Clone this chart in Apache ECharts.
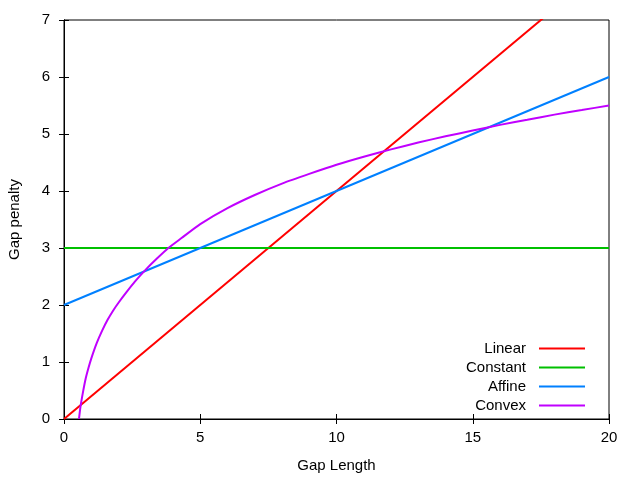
<!DOCTYPE html>
<html>
<head>
<meta charset="utf-8">
<script src="https://cdn.jsdelivr.net/npm/echarts@6/dist/echarts.min.js"></script>
<style>html,body{margin:0;padding:0;background:#fff}#c{width:640px;height:480px}</style>
</head>
<body>
<div id="c"></div>
<script>
var seriesNames = ['Linear', 'Constant', 'Affine', 'Convex'];
var linearData = [[0, 0], [20, 8]];
var constantData = [[0, 3], [20, 3]];
var affineData = [[0, 2], [20, 6]];
var convexData = [[0.55, 0], [0.6, 0.2], [0.7, 0.48], [0.8, 0.72], [0.9, 0.9], [1.0, 1.06], [1.2, 1.33], [1.4, 1.55], [1.6, 1.74], [1.8, 1.9], [2.0, 2.04], [2.3, 2.23], [2.6, 2.41], [3.0, 2.62], [3.4, 2.81], [3.83, 3.0], [4.3, 3.17], [5, 3.42], [6, 3.7], [7, 3.93], [8, 4.13], [9, 4.3], [10, 4.46], [11, 4.6], [12, 4.73], [13, 4.85], [14, 4.96], [15, 5.06], [16, 5.16], [17, 5.25], [18, 5.34], [19, 5.42], [20, 5.5]];
var colors = ['#ff0000', '#00c000', '#0080ff', '#c000ff'];
var xTicks = [0, 5, 10, 15, 20];
var yTicks = [0, 1, 2, 3, 4, 5, 6, 7];

var font = 'Liberation Sans, Arial, sans-serif';
var chart = echarts.init(document.getElementById('c'));
var axisLineStyle = {show: true, lineStyle: {color: '#000', width: 1}};
var tick = {show: true, inside: true, length: 5, lineStyle: {color: '#000'}};
var allData = [linearData, constantData, affineData, convexData];
chart.setOption({
  animation: false,
  color: colors,
  grid: {left: 64, top: 20, right: 31, bottom: 61, containLabel: false, outerBoundsMode: 'none',
         show: true, borderColor: '#000', borderWidth: 1, backgroundColor: 'transparent'},
  legend: {
    orient: 'vertical', right: 50, top: 336, align: 'right',
    itemWidth: 46, itemHeight: 2, itemGap: 4, icon: 'rect',
    textStyle: {fontFamily: font, fontSize: 15, color: '#000', padding: [0, 8, 0, 0]},
    data: seriesNames
  },
  xAxis: [{
    type: 'value', min: xTicks[0], max: xTicks[xTicks.length - 1], interval: 5,
    name: 'Gap Length', nameLocation: 'middle', nameGap: 39,
    nameTextStyle: {fontFamily: font, fontSize: 15, color: '#000'},
    axisLine: axisLineStyle, axisTick: tick, splitLine: {show: false},
    axisLabel: {fontFamily: font, fontSize: 15, color: '#000', margin: 11}
  }, {
    type: 'value', position: 'top', min: 0, max: 20, interval: 5,
    axisLine: axisLineStyle, axisTick: tick, splitLine: {show: false}, axisLabel: {show: false}
  }],
  yAxis: [{
    type: 'value', min: yTicks[0], max: yTicks[yTicks.length - 1], interval: 1,
    name: 'Gap penalty', nameLocation: 'middle', nameGap: 42,
    nameTextStyle: {fontFamily: font, fontSize: 15, color: '#000'},
    axisLine: axisLineStyle, axisTick: tick, splitLine: {show: false},
    axisLabel: {fontFamily: font, fontSize: 15, color: '#000', margin: 14}
  }, {
    type: 'value', position: 'right', min: 0, max: 7, interval: 1,
    axisLine: axisLineStyle, axisTick: tick, splitLine: {show: false}, axisLabel: {show: false}
  }],
  series: seriesNames.map(function (n, i) {
    return {
      name: n, type: 'line', data: allData[i], showSymbol: false, symbol: 'none',
      smooth: i === 3 ? 0.2 : false, clip: true,
      lineStyle: {width: 2, color: colors[i]}, itemStyle: {color: colors[i]}
    };
  })
});
</script>
</body>
</html>
